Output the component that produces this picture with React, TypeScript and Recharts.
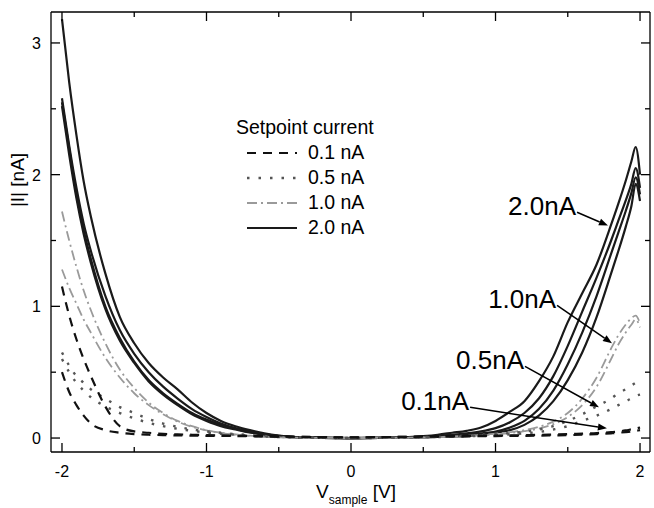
import React from 'react'
import { LineChart, Line, XAxis, YAxis, ReferenceLine, Legend } from 'recharts'

// sample voltage grid [V]
const volts = [
  -2, -1.95, -1.9, -1.85, -1.8, -1.7, -1.6, -1.5, -1.4, -1.3, -1.2, -1.1, -1.0, -0.9, -0.8, -0.7, -0.6, -0.5, -0.4, -0.2, 0,
  0.2, 0.4, 0.5, 0.6, 0.7, 0.8, 0.9, 1.0, 1.1, 1.2, 1.3, 1.4, 1.5, 1.6, 1.7, 1.8, 1.85, 1.9, 1.94, 1.97, 2.0,
]

// |I| [nA], setpoint 2.0 nA (four sweeps)
const sp20a = [3.18, 2.7, 2.3, 1.95, 1.68, 1.25, 0.92, 0.72, 0.57, 0.46, 0.37, 0.27, 0.19, 0.13, 0.09, 0.06, 0.035, 0.018, 0.008, 0.002, 0,
  0.002, 0.008, 0.015, 0.025, 0.04, 0.055, 0.08, 0.13, 0.2, 0.28, 0.43, 0.62, 0.88, 1.1, 1.32, 1.62, 1.78, 1.95, 2.1, 2.21, 2.0]
const sp20b = [2.55, 2.2, 1.85, 1.58, 1.36, 1.0, 0.76, 0.58, 0.44, 0.34, 0.26, 0.19, 0.14, 0.1, 0.07, 0.045, 0.028, 0.015, 0.007, 0.002, 0,
  0.001, 0.005, 0.01, 0.015, 0.025, 0.035, 0.05, 0.075, 0.12, 0.19, 0.3, 0.47, 0.7, 0.96, 1.22, 1.5, 1.65, 1.8, 1.93, 2.05, 1.9]
const sp20c = [2.52, 2.15, 1.82, 1.55, 1.33, 0.98, 0.74, 0.57, 0.43, 0.33, 0.25, 0.18, 0.13, 0.09, 0.065, 0.042, 0.026, 0.014, 0.006, 0.002, 0,
  0.001, 0.004, 0.007, 0.011, 0.015, 0.025, 0.035, 0.05, 0.08, 0.13, 0.22, 0.36, 0.56, 0.8, 1.08, 1.4, 1.56, 1.72, 1.86, 1.98, 1.85]
const sp20d = [2.58, 2.22, 1.9, 1.63, 1.42, 1.08, 0.82, 0.64, 0.5, 0.39, 0.3, 0.22, 0.16, 0.11, 0.075, 0.05, 0.03, 0.016, 0.007, 0.002, 0,
  0.001, 0.003, 0.005, 0.008, 0.011, 0.015, 0.025, 0.04, 0.06, 0.1, 0.17, 0.28, 0.44, 0.65, 0.92, 1.25, 1.42, 1.6, 1.76, 1.93, 1.8]

// setpoint 1.0 nA
const sp10a = [1.72, 1.5, 1.3, 1.12, 0.97, 0.72, 0.52, 0.38, 0.27, 0.19, 0.13, 0.09, 0.06, 0.04, 0.028, 0.018, 0.01, 0.006, 0.003, 0.001, 0,
  0.001, 0.003, 0.005, 0.008, 0.012, 0.017, 0.024, 0.033, 0.045, 0.06, 0.085, 0.125, 0.19, 0.3, 0.46, 0.68, 0.78, 0.86, 0.91, 0.93, 0.87]
const sp10b = [1.28, 1.14, 1.02, 0.9, 0.8, 0.61, 0.46, 0.34, 0.25, 0.18, 0.125, 0.085, 0.058, 0.038, 0.025, 0.016, 0.009, 0.005, 0.003, 0.001, 0,
  0.001, 0.002, 0.004, 0.006, 0.01, 0.014, 0.02, 0.028, 0.038, 0.052, 0.072, 0.105, 0.16, 0.25, 0.39, 0.6, 0.71, 0.8, 0.86, 0.9, 0.84]

// setpoint 0.5 nA
const sp05a = [0.65, 0.55, 0.47, 0.42, 0.37, 0.3, 0.235, 0.19, 0.145, 0.11, 0.085, 0.065, 0.05, 0.04, 0.03, 0.022, 0.016, 0.01, 0.006, 0.002, 0,
  0.002, 0.005, 0.008, 0.01, 0.014, 0.018, 0.024, 0.03, 0.038, 0.048, 0.065, 0.09, 0.13, 0.18, 0.24, 0.3, 0.34, 0.37, 0.4, 0.42, 0.45]
const sp05b = [0.6, 0.5, 0.42, 0.36, 0.31, 0.24, 0.19, 0.15, 0.115, 0.09, 0.07, 0.055, 0.042, 0.033, 0.025, 0.018, 0.012, 0.008, 0.005, 0.002, 0,
  0.001, 0.004, 0.006, 0.008, 0.01, 0.013, 0.017, 0.022, 0.028, 0.036, 0.046, 0.065, 0.09, 0.13, 0.17, 0.22, 0.25, 0.28, 0.3, 0.32, 0.33]

// setpoint 0.1 nA
const sp01a = [1.15, 0.93, 0.75, 0.6, 0.47, 0.24, 0.09, 0.05, 0.04, 0.032, 0.028, 0.025, 0.022, 0.02, 0.018, 0.016, 0.014, 0.012, 0.01, 0.007, 0.005,
  0.007, 0.01, 0.012, 0.013, 0.015, 0.016, 0.018, 0.019, 0.02, 0.022, 0.024, 0.027, 0.03, 0.034, 0.038, 0.045, 0.05, 0.058, 0.066, 0.072, 0.08]
const sp01b = [0.5, 0.35, 0.25, 0.17, 0.11, 0.06, 0.04, 0.03, 0.025, 0.022, 0.02, 0.018, 0.017, 0.016, 0.015, 0.014, 0.012, 0.011, 0.01, 0.007, 0.005,
  0.007, 0.009, 0.01, 0.011, 0.012, 0.013, 0.014, 0.015, 0.016, 0.017, 0.018, 0.02, 0.022, 0.025, 0.03, 0.036, 0.04, 0.045, 0.05, 0.055, 0.06]

const xTicks = [-2, -1.5, -1, -0.5, 0, 0.5, 1, 1.5, 2]
const yTicks = [0, 0.5, 1, 1.5, 2, 2.5, 3]

const legendNames = ['0.1 nA', '0.5 nA', '1.0 nA', '2.0 nA']

// arrow annotations: label, tail (V, nA), head (V, nA)
const annoLabels = ['2.0nA', '1.0nA', '0.5nA', '0.1nA']
const annoFrom = [[1.564, 1.714], [1.426, 1.007], [1.204, 0.544], [0.824, 0.233]]
const annoTo = [[1.778, 1.614], [1.806, 0.719], [1.716, 0.233], [1.771, 0.074]]

const FONT = '"Liberation Sans", Arial, sans-serif'

const styles = {
  '0.1 nA': { stroke: '#111', strokeWidth: 2.2, strokeDasharray: '9 7' },
  '0.5 nA': { stroke: '#555', strokeWidth: 2.4, strokeDasharray: '2.5 9' },
  '1.0 nA': { stroke: '#9a9a9a', strokeWidth: 1.8, strokeDasharray: '10 4 2 4' },
  '2.0 nA': { stroke: '#1a1a1a', strokeWidth: 2.2, strokeDasharray: undefined },
}

const series = [
  { key: '2a', set: '2.0 nA', vals: sp20a },
  { key: '2b', set: '2.0 nA', vals: sp20b },
  { key: '2c', set: '2.0 nA', vals: sp20c },
  { key: '2d', set: '2.0 nA', vals: sp20d },
  { key: '1a', set: '1.0 nA', vals: sp10a },
  { key: '1b', set: '1.0 nA', vals: sp10b },
  { key: '5a', set: '0.5 nA', vals: sp05a },
  { key: '5b', set: '0.5 nA', vals: sp05b },
  { key: '0a', set: '0.1 nA', vals: sp01a },
  { key: '0b', set: '0.1 nA', vals: sp01b },
]

const isMajor = (v: number) => Math.abs(v - Math.round(v)) < 1e-6

const BottomTick = ({ x, y, payload }: any) => {
  const major = isMajor(payload.value)
  return (
    <g>
      <line x1={x} y1={y} x2={x} y2={y - (major ? 9 : 5)} stroke="#000" strokeWidth={1.3} />
      {major && (
        <text x={x} y={y + 25} textAnchor="middle" fontSize={16} fontFamily={FONT} fill="#000">
          {payload.value}
        </text>
      )}
    </g>
  )
}
const TopTick = ({ x, y, payload }: any) => (
  <line x1={x} y1={y} x2={x} y2={y + (isMajor(payload.value) ? 9 : 5)} stroke="#000" strokeWidth={1.3} />
)
const LeftTick = ({ x, y, payload }: any) => {
  const major = isMajor(payload.value)
  return (
    <g>
      <line x1={x} y1={y} x2={x + (major ? 9 : 5)} y2={y} stroke="#000" strokeWidth={1.3} />
      {major && (
        <text x={x - 10} y={y + 6} textAnchor="end" fontSize={16} fontFamily={FONT} fill="#000">
          {payload.value}
        </text>
      )}
    </g>
  )
}
const RightTick = ({ x, y, payload }: any) => (
  <line x1={x} y1={y} x2={x - (isMajor(payload.value) ? 9 : 5)} y2={y} stroke="#000" strokeWidth={1.3} />
)

const arrowShape = (label: string) => (p: any) => {
  const { x1, y1, x2, y2 } = p
  const ang = Math.atan2(y2 - y1, x2 - x1)
  const L = 9
  const W = 3.5
  const bx = x2 - L * Math.cos(ang)
  const by = y2 - L * Math.sin(ang)
  const nx = -Math.sin(ang) * W
  const ny = Math.cos(ang) * W
  return (
    <g>
      <line x1={x1} y1={y1} x2={bx} y2={by} stroke="#000" strokeWidth={1.5} />
      <polygon points={`${x2},${y2} ${bx + nx},${by + ny} ${bx - nx},${by - ny}`} fill="#000" />
      <text x={x1 - 1} y={y1 + 3} textAnchor="end" fontSize={26} fontFamily={FONT} fill="#000">
        {label}
      </text>
    </g>
  )
}

const LegendBox = () => (
  <div style={{ fontFamily: FONT, fontSize: 19.5, color: '#000', lineHeight: '25px', textAlign: 'left' }}>
    <div>Setpoint current</div>
    {legendNames.map((n) => {
      const s = (styles as any)[n]
      return (
        <div key={n} style={{ display: 'flex', alignItems: 'center', marginLeft: 11 }}>
          <svg width={52} height={10} style={{ marginRight: 9 }}>
            <line x1={0} y1={5} x2={50} y2={5} stroke={s.stroke} strokeWidth={s.strokeWidth} strokeDasharray={s.strokeDasharray} />
          </svg>
          <span>{n}</span>
        </div>
      )
    })}
  </div>
)

export default function App() {
  return (
    <div style={{ position: 'absolute', left: 0, top: 0, background: '#fff' }}>
      <LineChart width={654} height={508} margin={{ top: 10, right: 2, bottom: 6, left: 11 }}>
        <XAxis
          type="number"
          dataKey="v"
          domain={[-2.076, 2.069]}
          allowDataOverflow
          ticks={xTicks}
          interval={0}
          tickSize={0}
          tickMargin={0}
          tick={<BottomTick />}
          height={50}
          stroke="#000"
          strokeWidth={1.3}
          label={{
            content: () => (
              <text x={356} y={498} textAnchor="middle" fontFamily={FONT} fill="#000" fontSize={19}>
                <tspan>V</tspan>
                <tspan fontSize={12} dy={6}>sample</tspan>
                <tspan dy={-6}> [V]</tspan>
              </text>
            ),
          }}
        />
        <XAxis
          xAxisId="t"
          orientation="top"
          type="number"
          dataKey="v"
          domain={[-2.076, 2.069]}
          allowDataOverflow
          ticks={xTicks}
          interval={0}
          tickSize={0}
          tickMargin={0}
          tick={<TopTick />}
          height={2}
          stroke="#000"
          strokeWidth={1.3}
        />
        <YAxis
          type="number"
          domain={[-0.106, 3.235]}
          allowDataOverflow
          ticks={yTicks}
          interval={0}
          tickSize={0}
          tickMargin={0}
          tick={<LeftTick />}
          width={40}
          stroke="#000"
          strokeWidth={1.3}
          label={{
            content: () => (
              <text transform="translate(24,180) rotate(-90)" textAnchor="middle" fontFamily={FONT} fill="#000" fontSize={19}>
                |I| [nA]
              </text>
            ),
          }}
        />
        <YAxis
          yAxisId="r"
          orientation="right"
          type="number"
          domain={[-0.106, 3.235]}
          allowDataOverflow
          ticks={yTicks}
          interval={0}
          tickSize={0}
          tickMargin={0}
          tick={<RightTick />}
          width={2}
          stroke="#000"
          strokeWidth={1.3}
        />
        <Legend
          layout="horizontal"
          verticalAlign="middle"
          align="center"
          content={<LegendBox />}
          wrapperStyle={{ left: 236, top: 115, width: 'auto' }}
        />
        {series.map((s) => {
          const st = (styles as any)[s.set]
          return (
            <Line
              key={s.key}
              data={volts.map((v, i) => ({ v, i: s.vals[i] }))}
              dataKey="i"
              type="monotone"
              stroke={st.stroke}
              strokeWidth={st.strokeWidth}
              strokeDasharray={st.strokeDasharray}
              dot={false}
              activeDot={false}
              legendType="none"
              isAnimationActive={false}
            />
          )
        })}
        {annoLabels.map((lab, k) => (
          <ReferenceLine
            key={lab}
            segment={[
              { x: annoFrom[k][0], y: annoFrom[k][1] },
              { x: annoTo[k][0], y: annoTo[k][1] },
            ]}
            shape={arrowShape(lab)}
          />
        ))}
      </LineChart>
    </div>
  )
}
